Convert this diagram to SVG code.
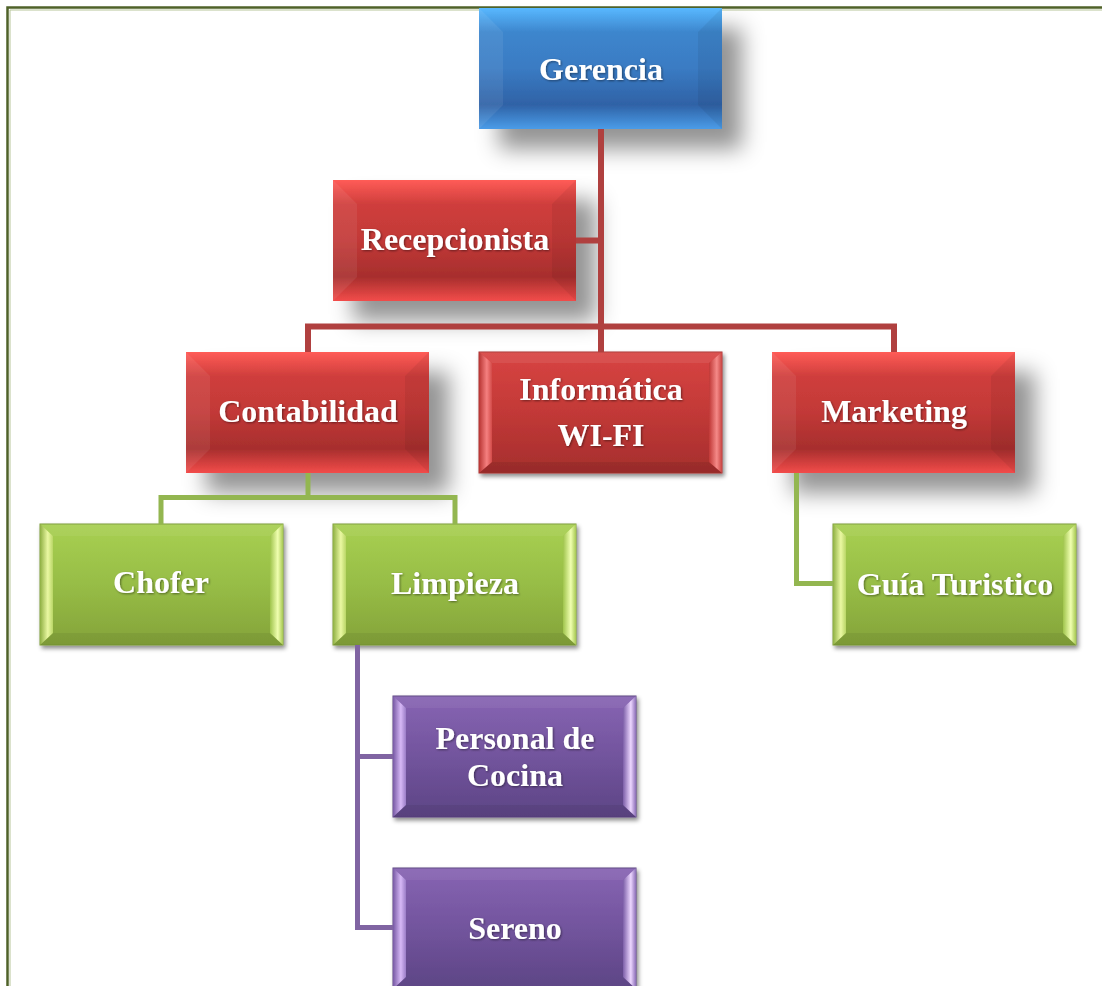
<svg xmlns="http://www.w3.org/2000/svg" width="1102" height="986" viewBox="0 0 1102 986">
<style>
.t{font-family:"Liberation Serif","Times New Roman",serif;font-weight:bold;font-size:32px;fill:#fff;text-anchor:middle;filter:url(#ts)}
.red{stroke:#b0403f;stroke-width:6;fill:none}
.grn{stroke:#93b650;stroke-width:5;fill:none}
.pur{stroke:#8064a2;stroke-width:5;fill:none}
</style>
<defs>
<filter id="big" x="-20%" y="-20%" width="160%" height="170%">
<feDropShadow dx="20" dy="20" stdDeviation="11" flood-color="#000" flood-opacity="0.42"/>
</filter>
<filter id="sm" x="-10%" y="-10%" width="130%" height="130%">
<feDropShadow dx="2" dy="3" stdDeviation="2" flood-color="#000" flood-opacity="0.45"/>
</filter>
<filter id="ts" x="-10%" y="-30%" width="120%" height="160%">
<feDropShadow dx="1" dy="1" stdDeviation="0.8" flood-color="#000" flood-opacity="0.45"/>
</filter>
<linearGradient id="gBlue" x1="0" y1="0" x2="0" y2="1">
<stop offset="0" stop-color="#58b8ff"/><stop offset="0.2" stop-color="#3d86cd"/><stop offset="0.5" stop-color="#3a7bc3"/><stop offset="0.8" stop-color="#2f62a6"/><stop offset="1" stop-color="#4a9ce8"/>
</linearGradient>
<linearGradient id="gRed" x1="0" y1="0" x2="0" y2="1">
<stop offset="0" stop-color="#ff5c57"/><stop offset="0.2" stop-color="#cf3e3c"/><stop offset="0.5" stop-color="#c23937"/><stop offset="0.8" stop-color="#a72e2d"/><stop offset="1" stop-color="#f24c4a"/>
</linearGradient>
<linearGradient id="gRed2" x1="0" y1="0" x2="0" y2="1">
<stop offset="0" stop-color="#d84442"/><stop offset="0.5" stop-color="#c23937"/><stop offset="1" stop-color="#a52e2d"/>
</linearGradient>
<linearGradient id="gGrn" x1="0" y1="0" x2="0" y2="1">
<stop offset="0" stop-color="#a8d052"/><stop offset="0.5" stop-color="#97bd46"/><stop offset="1" stop-color="#84a33a"/>
</linearGradient>
<linearGradient id="gPur" x1="0" y1="0" x2="0" y2="1">
<stop offset="0" stop-color="#8764b3"/><stop offset="0.5" stop-color="#72549d"/><stop offset="1" stop-color="#5d4585"/>
</linearGradient>
<linearGradient id="lGrn" x1="0" y1="0" x2="1" y2="0">
<stop offset="0" stop-color="#8eaf42"/><stop offset="0.6" stop-color="#eaf8a2"/><stop offset="1" stop-color="#b9d666"/>
</linearGradient>
<linearGradient id="rGrn" x1="0" y1="0" x2="1" y2="0">
<stop offset="0" stop-color="#9fc44c"/><stop offset="0.6" stop-color="#f0ffb0"/><stop offset="1" stop-color="#a6c852"/>
</linearGradient>
<linearGradient id="lPur" x1="0" y1="0" x2="1" y2="0">
<stop offset="0" stop-color="#7658a3"/><stop offset="0.6" stop-color="#d6b8f6"/><stop offset="1" stop-color="#9a7cc6"/>
</linearGradient>
<linearGradient id="rPur" x1="0" y1="0" x2="1" y2="0">
<stop offset="0" stop-color="#7c5ea8"/><stop offset="0.6" stop-color="#ecd6ff"/><stop offset="1" stop-color="#8a6cb6"/>
</linearGradient>
<linearGradient id="lRed" x1="0" y1="0" x2="1" y2="0">
<stop offset="0" stop-color="#b83432"/><stop offset="0.6" stop-color="#f58080"/><stop offset="1" stop-color="#d24a48"/>
</linearGradient>
<linearGradient id="rRed" x1="0" y1="0" x2="1" y2="0">
<stop offset="0" stop-color="#c03836"/><stop offset="0.6" stop-color="#f58a88"/><stop offset="1" stop-color="#c84442"/>
</linearGradient>
</defs>
<rect width="1102" height="986" fill="#fff"/>
<g id="page-border">
<path d="M7.5,986 V7.5 H1102" fill="none" stroke="#4f6228" stroke-width="2.5"/>
<path d="M10,986 V10 H1102" fill="none" stroke="#b7c59a" stroke-width="1"/>
</g>

<g id="node-gerencia">
<g filter="url(#big)"><rect x="479" y="8" width="243" height="121" fill="url(#gBlue)"/></g>
<polygon points="479,8 503,32 503,105 479,129" fill="#fff" opacity="0.07"/>
<polygon points="722,8 698,32 698,105 722,129" fill="#000" opacity="0.06"/>
<text class="t" x="601" y="80">Gerencia</text>
</g>

<g id="node-recepcionista">
<g filter="url(#big)"><rect x="333" y="180" width="243" height="121" fill="url(#gRed)"/></g>
<polygon points="333,180 357,204 357,277 333,301" fill="#fff" opacity="0.07"/>
<polygon points="576,180 552,204 552,277 576,301" fill="#000" opacity="0.06"/>
<text class="t" x="455" y="250">Recepcionista</text>
</g>

<g id="node-contabilidad">
<g filter="url(#big)"><rect x="186" y="352" width="243" height="121" fill="url(#gRed)"/></g>
<polygon points="186,352 210,376 210,449 186,473" fill="#fff" opacity="0.07"/>
<polygon points="429,352 405,376 405,449 429,473" fill="#000" opacity="0.06"/>
<text class="t" x="308" y="422">Contabilidad</text>
</g>

<g id="node-informatica">
<g filter="url(#sm)"><rect x="479" y="352" width="243" height="121" fill="url(#gRed2)" stroke="#a83230" stroke-width="1"/></g>
<polygon points="479,352 722,352 709,363 492,363" fill="#fff" opacity="0.08"/>
<polygon points="479,473 722,473 709,462 492,462" fill="#000" opacity="0.08"/>
<polygon points="479,352 492,363 492,462 479,473" fill="url(#lRed)"/>
<polygon points="722,352 709,363 709,462 722,473" fill="url(#rRed)"/>
<text class="t" x="601" y="400">Informática</text>
<text class="t" x="601" y="446">WI-FI</text>
</g>

<g id="node-marketing">
<g filter="url(#big)"><rect x="772" y="352" width="243" height="121" fill="url(#gRed)"/></g>
<polygon points="772,352 796,376 796,449 772,473" fill="#fff" opacity="0.07"/>
<polygon points="1015,352 991,376 991,449 1015,473" fill="#000" opacity="0.06"/>
<text class="t" x="894" y="422">Marketing</text>
</g>

<g id="node-chofer">
<g filter="url(#sm)"><rect x="40" y="524" width="243" height="121" fill="url(#gGrn)" stroke="#7a9a36" stroke-width="1"/></g>
<polygon points="40,524 283,524 270,536 53,536" fill="#fff" opacity="0.06"/>
<polygon points="40,645 283,645 270,633 53,633" fill="#000" opacity="0.06"/>
<polygon points="40,524 53,536 53,633 40,645" fill="url(#lGrn)"/>
<polygon points="283,524 270,536 270,633 283,645" fill="url(#rGrn)"/>
<text class="t" x="161" y="593">Chofer</text>
</g>

<g id="node-limpieza">
<g filter="url(#sm)"><rect x="333" y="524" width="243" height="121" fill="url(#gGrn)" stroke="#7a9a36" stroke-width="1"/></g>
<polygon points="333,524 576,524 563,536 346,536" fill="#fff" opacity="0.06"/>
<polygon points="333,645 576,645 563,633 346,633" fill="#000" opacity="0.06"/>
<polygon points="333,524 346,536 346,633 333,645" fill="url(#lGrn)"/>
<polygon points="576,524 563,536 563,633 576,645" fill="url(#rGrn)"/>
<text class="t" x="455" y="594">Limpieza</text>
</g>

<g id="node-guia">
<g filter="url(#sm)"><rect x="833" y="524" width="243" height="121" fill="url(#gGrn)" stroke="#7a9a36" stroke-width="1"/></g>
<polygon points="833,524 1076,524 1063,536 846,536" fill="#fff" opacity="0.06"/>
<polygon points="833,645 1076,645 1063,633 846,633" fill="#000" opacity="0.06"/>
<polygon points="833,524 846,536 846,633 833,645" fill="url(#lGrn)"/>
<polygon points="1076,524 1063,536 1063,633 1076,645" fill="url(#rGrn)"/>
<text class="t" x="955" y="595">Guía Turistico</text>
</g>

<g id="node-personal-cocina">
<g filter="url(#sm)"><rect x="393" y="696" width="243" height="121" fill="url(#gPur)" stroke="#5a4280" stroke-width="1"/></g>
<polygon points="393,696 636,696 623,708 406,708" fill="#fff" opacity="0.06"/>
<polygon points="393,817 636,817 623,805 406,805" fill="#000" opacity="0.06"/>
<polygon points="393,696 406,708 406,805 393,817" fill="url(#lPur)"/>
<polygon points="636,696 623,708 623,805 636,817" fill="url(#rPur)"/>
<text class="t" x="515" y="749">Personal de</text>
<text class="t" x="515" y="786">Cocina</text>
</g>

<g id="node-sereno">
<g filter="url(#sm)"><rect x="393" y="868" width="243" height="121" fill="url(#gPur)" stroke="#5a4280" stroke-width="1"/></g>
<polygon points="393,868 636,868 623,880 406,880" fill="#fff" opacity="0.06"/>
<polygon points="393,868 406,880 406,977 393,989" fill="url(#lPur)"/>
<polygon points="636,868 623,880 623,977 636,989" fill="url(#rPur)"/>
<text class="t" x="515" y="939">Sereno</text>
</g>

<g id="connectors">
<path class="red" d="M601,129 V352"/>
<path class="red" d="M576,240.5 H601"/>
<path class="red" d="M308,352 V326.5 H894 V352"/>
<path class="grn" d="M308,473 V497.5"/>
<path class="grn" d="M161,524 V497.5 H455 V524"/>
<path class="grn" d="M796.5,473 V583.5 H833"/>
<path class="pur" d="M357.5,645 V927.5 H393"/>
<path class="pur" d="M357.5,756.5 H393"/>
</g>
</svg>
